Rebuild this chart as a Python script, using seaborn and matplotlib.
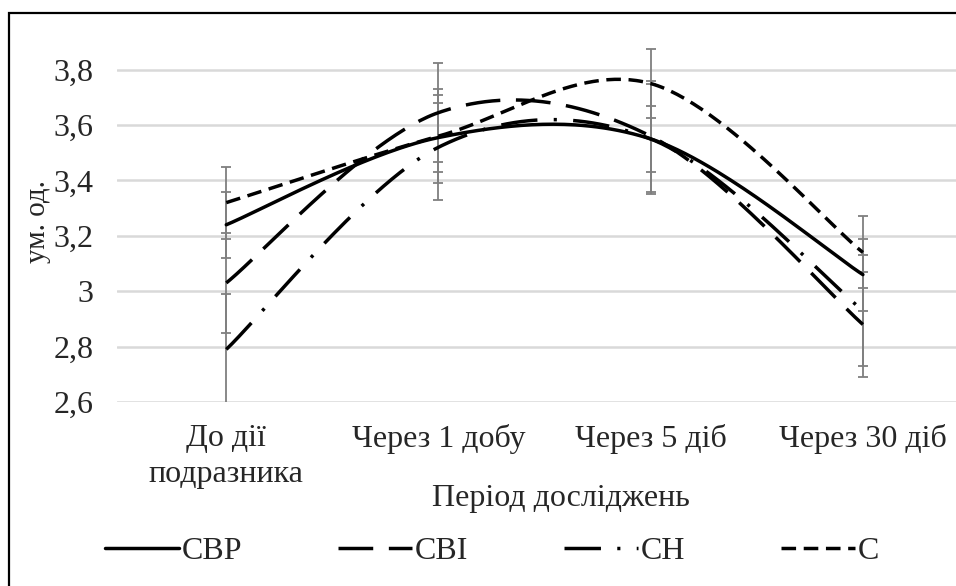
import numpy as np
import pandas as pd
import matplotlib
matplotlib.use("Agg")
import matplotlib.pyplot as plt
import seaborn as sns
from matplotlib.patches import Rectangle

# ---- data ----
categories = ["До дії\nподразника", "Через 1 добу", "Через 5 діб", "Через 30 діб"]
series_names = ["СВР", "СВІ", "СН", "С"]
svr = [3.24, 3.555, 3.55, 3.06]
svi = [3.03, 3.645, 3.56, 2.88]
sn = [2.79, 3.52, 3.55, 2.93]
s = [3.32, 3.56, 3.75, 3.14]
svr_err = [0.12, 0.125, 0.12, 0.13]
svi_err = [0.18, 0.18, 0.20, 0.19]
sn_err = [0.20, 0.19, 0.20, 0.20]
s_err = [0.13, 0.17, 0.125, 0.13]
y_ticks = [2.6, 2.8, 3.0, 3.2, 3.4, 3.6, 3.8]
y_tick_labels = ["2,6", "2,8", "3", "3,2", "3,4", "3,6", "3,8"]
x_title = "Період досліджень"
y_title = "ум. од."

sns.set_style("white")
plt.rcParams["font.family"] = ["Liberation Serif", "DejaVu Serif"]


def smooth_curve(xs, ys, n=60):
    """Catmull-Rom style cubic Bezier through the points (spreadsheet 'smoothed line')."""
    pts = np.column_stack([xs, ys]).astype(float)
    ext = np.vstack([pts[0], pts, pts[-1]])
    out = []
    t = np.linspace(0, 1, n)[:, None]
    for i in range(len(pts) - 1):
        p0, p3 = ext[i + 1], ext[i + 2]
        p1 = p0 + (ext[i + 2] - ext[i]) / 6.0
        p2 = p3 - (ext[i + 3] - ext[i + 1]) / 6.0
        seg = ((1 - t) ** 3) * p0 + 3 * ((1 - t) ** 2) * t * p1 + 3 * (1 - t) * t ** 2 * p2 + t ** 3 * p3
        out.append(seg if i == 0 else seg[1:])
    out = np.vstack(out)
    return out[:, 0], out[:, 1]


W, H = 956, 586
fig = plt.figure(figsize=(W / 100, H / 100), dpi=100)
ax = fig.add_axes([117 / W, 184 / H, 852 / W, 360 / H])

x_pos = np.arange(len(categories))
values = [svr, svi, sn, s]
errors = [svr_err, svi_err, sn_err, s_err]
styles = [
    "-",
    (0, (10, 4.5)),
    (0, (10.5, 4.7, 0.9, 4.7)),
    (0, (4.2, 2.2)),
]

# error bars
for vals, errs in zip(values, errors):
    ax.errorbar(x_pos, vals, yerr=errs, fmt="none", ecolor="#7f7f7f",
                elinewidth=1.3, capsize=3.8, capthick=1.3, zorder=2)

# smoothed series lines
handles = []
for name, vals, ls in zip(series_names, values, styles):
    cx, cy = smooth_curve(x_pos, vals)
    df = pd.DataFrame({"x": cx, "y": cy})
    sns.lineplot(data=df, x="x", y="y", sort=False, estimator=None, ax=ax,
                 color="black", linewidth=2.5, zorder=3)
    line = ax.lines[-1]
    line.set_linestyle(ls)
    line.set_dash_capstyle("butt")
    handles.append(line)

ax.set_xlim(-0.515, 3.5)
ax.set_ylim(2.6, 3.9)
ax.set_yticks(y_ticks)
ax.set_yticklabels(y_tick_labels)
ax.set_xticks(x_pos)
ax.set_xticklabels(categories, linespacing=1.3)
ax.yaxis.grid(True, color="#d9d9d9", linewidth=1.8)
ax.xaxis.grid(False)
for sp in ax.spines.values():
    sp.set_visible(False)
ax.tick_params(axis="y", length=0, pad=17, labelsize=23)
ax.tick_params(axis="x", length=0, pad=16, labelsize=23)
ax.set_xlabel(x_title, fontsize=23)
ax.xaxis.set_label_coords(0.521, -0.228)
ax.set_ylabel(y_title, fontsize=21)
ax.yaxis.set_label_coords(-0.077, 0.5)

fig.legend(handles, series_names, loc="center", bbox_to_anchor=(0.515, 1 - 551 / H),
           ncol=4, frameon=False, fontsize=23, handlelength=2.3, handletextpad=0.1,
           columnspacing=3.0)

# outer chart border
fig.patches.append(Rectangle((9 / W, -0.02), 1.1, 1 - 13 / H + 0.02, transform=fig.transFigure,
                             fill=False, edgecolor="black", linewidth=1.6))

fig.savefig("out.png", dpi=100)
